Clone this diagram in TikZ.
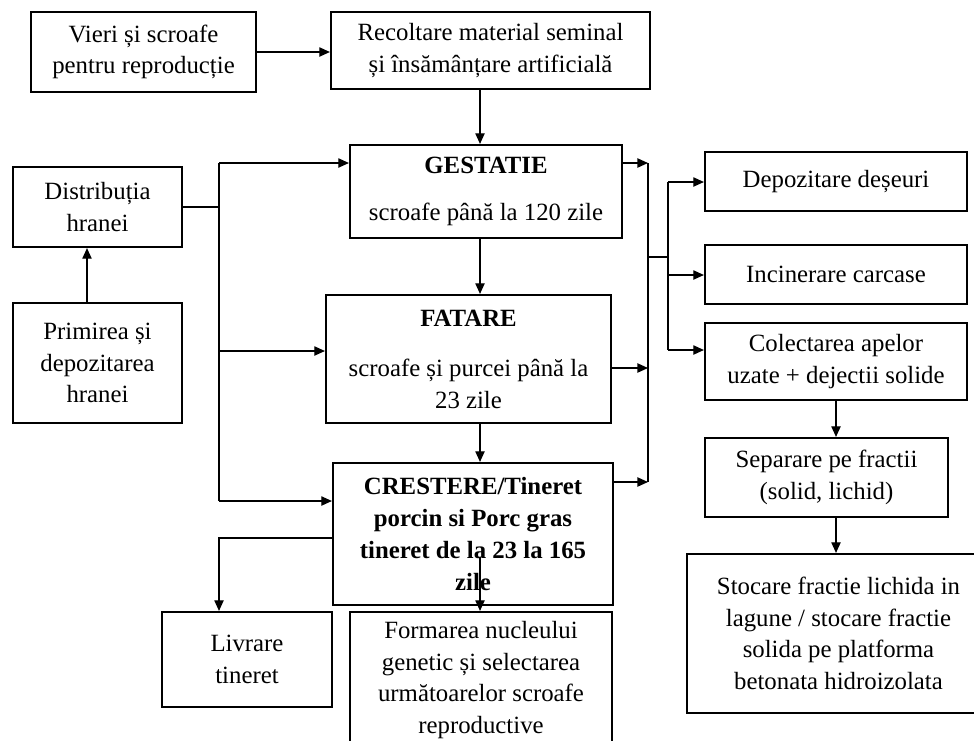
\documentclass[tikz,border=0pt]{standalone}
\usepackage{fontspec}
\setmainfont{Liberation Serif}
\usepackage{tikz}
\usetikzlibrary{arrows.meta}

\begin{document}
\begin{tikzpicture}[x=0.75pt,y=-0.75pt,
            box/.style={draw,line width=1.6pt,align=center,inner sep=2pt,
                font=\fontsize{18.6}{23.8}\selectfont},
            arr/.style={line width=1pt,-{Triangle[length=8pt,width=7pt]}},
            ln/.style={line width=1pt}]
            \useasboundingbox (0,0) rectangle (974,740);

            % boxes
            \node[box,minimum width=225*0.75pt,minimum height=80*0.75pt] (vieri) at (143.5,52) {Vieri și scroafe\\pentru reproducție};
            \node[box,minimum width=319*0.75pt,minimum height=77*0.75pt] (recolt) at (490.5,50.5) {Recoltare material seminal\\și însămânțare artificială};
            \node[box,minimum width=272*0.75pt,minimum height=93*0.75pt] (gest) at (486,191.5) {\textbf{GESTATIE}\\[12pt]scroafe până la 120 zile};
            \node[box,minimum width=285*0.75pt,minimum height=128*0.75pt] (fat) at (468.5,359) {\textbf{FATARE}\\[14pt]scroafe și purcei până la\\23 zile};
            \node[box,minimum width=280*0.75pt,minimum height=142*0.75pt] (cre) at (473,534) {\textbf{CRESTERE/Tineret}\\\textbf{porcin si Porc gras}\\\textbf{tineret de la 23 la 165}\\\textbf{zile}};
            \node[box,minimum width=169*0.75pt,minimum height=80*0.75pt] (distr) at (97.5,207) {Distribuția\\hranei};
            \node[box,minimum width=169*0.75pt,minimum height=120*0.75pt] (prim) at (97.5,363) {Primirea și\\depozitarea\\hranei};
            \node[box,minimum width=170*0.75pt,minimum height=95*0.75pt] (livr) at (247,659.5) {Livrare\\tineret};
            \node[box,minimum width=262*0.75pt,minimum height=136*0.75pt] (form) at (481,680) {Formarea nucleului\\genetic și selectarea\\următoarelor scroafe\\reproductive};
            \node[box,minimum width=262*0.75pt,minimum height=59*0.75pt] (depoz) at (836,181.5) {Depozitare deșeuri};
            \node[box,minimum width=262*0.75pt,minimum height=59*0.75pt] (incin) at (836,274.5) {Incinerare carcase};
            \node[box,minimum width=262*0.75pt,minimum height=77*0.75pt] (colect) at (836,361.5) {Colectarea apelor\\uzate + dejectii solide};
            \node[box,minimum width=243*0.75pt,minimum height=79*0.75pt] (separ) at (826.5,477.5) {Separare pe fractii\\(solid, lichid)};
            \node[box,minimum width=303*0.75pt,minimum height=159*0.75pt] (stoc) at (838.5,633.5) {Stocare fractie lichida in\\lagune / stocare fractie\\solida pe platforma\\betonata hidroizolata};

            % helper coordinates
            \coordinate (mid) at (480,0);
            \coordinate (pd) at (87,0);
            \coordinate (rc) at (836,0);
            \coordinate (lg) at (219,163);
            \coordinate (lf) at (219,351);
            \coordinate (lc) at (219,501);
            \coordinate (ll) at (219,538);
            \coordinate (rg) at (648,163);
            \coordinate (rf) at (648,368);
            \coordinate (rcr) at (648,482);
            \coordinate (rj) at (648,257);
            \coordinate (sj) at (668,257);
            \coordinate (sd) at (668,182);
            \coordinate (si) at (668,275);
            \coordinate (sc) at (668,350);
            \coordinate (zile) at (480,557);

            % main chain
            \draw[arr] (vieri.east) -- (vieri.east -| recolt.west);
            \draw[arr] (recolt.south -| mid) -- (gest.north -| mid);
            \draw[arr] (gest.south -| mid) -- (fat.north -| mid);
            \draw[arr] (fat.south -| mid) -- (cre.north -| mid);
            \draw[arr] (zile) -- (form.north -| mid);

            % feed
            \draw[arr] (prim.north -| pd) -- (distr.south -| pd);
            \draw[ln] (distr.east) -- (distr.east -| lg);
            \draw[ln] (lg) -- (lc);
            \draw[arr] (lg) -- (lg -| gest.west);
            \draw[arr] (lf) -- (lf -| fat.west);
            \draw[arr] (lc) -- (lc -| cre.west);
            \draw[arr] (ll -| cre.west) -- (ll) -- (livr.north -| ll);

            % waste
            \draw[ln] (rg) -- (rcr);
            \draw[arr] (rg -| gest.east) -- (rg);
            \draw[arr] (rf -| fat.east) -- (rf);
            \draw[arr] (rcr -| cre.east) -- (rcr);
            \draw[ln] (rj) -- (sj);
            \draw[ln] (sd) -- (sc);
            \draw[arr] (sd) -- (sd -| depoz.west);
            \draw[arr] (si) -- (si -| incin.west);
            \draw[arr] (sc) -- (sc -| colect.west);
            \draw[arr] (colect.south -| rc) -- (separ.north -| rc);
            \draw[arr] (separ.south -| rc) -- (stoc.north -| rc);
        \end{tikzpicture}
\end{document}
